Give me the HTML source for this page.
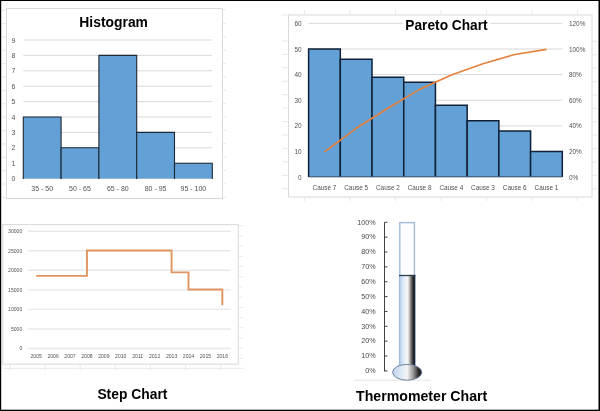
<!DOCTYPE html>
<html><head><meta charset="utf-8"><style>
html,body{margin:0;padding:0;background:#fff;}
body{width:600px;height:411px;overflow:hidden;}
svg{display:block;font-family:"Liberation Sans", sans-serif;will-change:transform;}
</style></head><body>
<svg width="600" height="411" viewBox="0 0 600 411">
<rect x="0" y="0" width="600" height="411" fill="#fff"/>
<line x1="2.00" y1="10.20" x2="6.00" y2="10.20" stroke="#e9e9e9" stroke-width="1"/>
<line x1="2.00" y1="23.57" x2="6.00" y2="23.57" stroke="#e9e9e9" stroke-width="1"/>
<line x1="2.00" y1="36.94" x2="6.00" y2="36.94" stroke="#e9e9e9" stroke-width="1"/>
<line x1="2.00" y1="50.31" x2="6.00" y2="50.31" stroke="#e9e9e9" stroke-width="1"/>
<line x1="2.00" y1="63.68" x2="6.00" y2="63.68" stroke="#e9e9e9" stroke-width="1"/>
<line x1="2.00" y1="77.05" x2="6.00" y2="77.05" stroke="#e9e9e9" stroke-width="1"/>
<line x1="2.00" y1="90.42" x2="6.00" y2="90.42" stroke="#e9e9e9" stroke-width="1"/>
<line x1="2.00" y1="103.79" x2="6.00" y2="103.79" stroke="#e9e9e9" stroke-width="1"/>
<line x1="2.00" y1="117.16" x2="6.00" y2="117.16" stroke="#e9e9e9" stroke-width="1"/>
<line x1="2.00" y1="130.53" x2="6.00" y2="130.53" stroke="#e9e9e9" stroke-width="1"/>
<line x1="2.00" y1="143.90" x2="6.00" y2="143.90" stroke="#e9e9e9" stroke-width="1"/>
<line x1="2.00" y1="157.27" x2="6.00" y2="157.27" stroke="#e9e9e9" stroke-width="1"/>
<line x1="2.00" y1="170.64" x2="6.00" y2="170.64" stroke="#e9e9e9" stroke-width="1"/>
<line x1="2.00" y1="184.01" x2="6.00" y2="184.01" stroke="#e9e9e9" stroke-width="1"/>
<line x1="2.00" y1="197.38" x2="6.00" y2="197.38" stroke="#e9e9e9" stroke-width="1"/>
<line x1="223.00" y1="9.90" x2="226.00" y2="9.90" stroke="#e9e9e9" stroke-width="1"/>
<line x1="223.00" y1="23.28" x2="226.00" y2="23.28" stroke="#e9e9e9" stroke-width="1"/>
<line x1="223.00" y1="36.66" x2="226.00" y2="36.66" stroke="#e9e9e9" stroke-width="1"/>
<line x1="223.00" y1="50.04" x2="226.00" y2="50.04" stroke="#e9e9e9" stroke-width="1"/>
<line x1="223.00" y1="63.42" x2="226.00" y2="63.42" stroke="#e9e9e9" stroke-width="1"/>
<line x1="223.00" y1="76.80" x2="226.00" y2="76.80" stroke="#e9e9e9" stroke-width="1"/>
<line x1="223.00" y1="90.18" x2="226.00" y2="90.18" stroke="#e9e9e9" stroke-width="1"/>
<line x1="223.00" y1="103.56" x2="226.00" y2="103.56" stroke="#e9e9e9" stroke-width="1"/>
<line x1="223.00" y1="116.94" x2="226.00" y2="116.94" stroke="#e9e9e9" stroke-width="1"/>
<line x1="223.00" y1="130.32" x2="226.00" y2="130.32" stroke="#e9e9e9" stroke-width="1"/>
<line x1="223.00" y1="143.70" x2="226.00" y2="143.70" stroke="#e9e9e9" stroke-width="1"/>
<line x1="223.00" y1="157.08" x2="226.00" y2="157.08" stroke="#e9e9e9" stroke-width="1"/>
<line x1="223.00" y1="170.46" x2="226.00" y2="170.46" stroke="#e9e9e9" stroke-width="1"/>
<line x1="223.00" y1="183.84" x2="226.00" y2="183.84" stroke="#e9e9e9" stroke-width="1"/>
<line x1="223.00" y1="197.22" x2="226.00" y2="197.22" stroke="#e9e9e9" stroke-width="1"/>
<rect x="6.50" y="8.50" width="216.00" height="190.00" fill="none" stroke="#d9d9d9" stroke-width="1" />
<line x1="23.30" y1="178.60" x2="212.30" y2="178.60" stroke="#d9d9d9" stroke-width="1"/>
<text x="15.40" y="181.10" font-size="7.6" text-anchor="end" fill="#505050" textLength="3.89" lengthAdjust="spacingAndGlyphs">0</text>
<line x1="23.30" y1="163.20" x2="212.30" y2="163.20" stroke="#d9d9d9" stroke-width="1"/>
<text x="15.40" y="165.70" font-size="7.6" text-anchor="end" fill="#505050" textLength="3.89" lengthAdjust="spacingAndGlyphs">1</text>
<line x1="23.30" y1="147.80" x2="212.30" y2="147.80" stroke="#d9d9d9" stroke-width="1"/>
<text x="15.40" y="150.30" font-size="7.6" text-anchor="end" fill="#505050" textLength="3.89" lengthAdjust="spacingAndGlyphs">2</text>
<line x1="23.30" y1="132.40" x2="212.30" y2="132.40" stroke="#d9d9d9" stroke-width="1"/>
<text x="15.40" y="134.90" font-size="7.6" text-anchor="end" fill="#505050" textLength="3.89" lengthAdjust="spacingAndGlyphs">3</text>
<line x1="23.30" y1="117.00" x2="212.30" y2="117.00" stroke="#d9d9d9" stroke-width="1"/>
<text x="15.40" y="119.50" font-size="7.6" text-anchor="end" fill="#505050" textLength="3.89" lengthAdjust="spacingAndGlyphs">4</text>
<line x1="23.30" y1="101.60" x2="212.30" y2="101.60" stroke="#d9d9d9" stroke-width="1"/>
<text x="15.40" y="104.10" font-size="7.6" text-anchor="end" fill="#505050" textLength="3.89" lengthAdjust="spacingAndGlyphs">5</text>
<line x1="23.30" y1="86.20" x2="212.30" y2="86.20" stroke="#d9d9d9" stroke-width="1"/>
<text x="15.40" y="88.70" font-size="7.6" text-anchor="end" fill="#505050" textLength="3.89" lengthAdjust="spacingAndGlyphs">6</text>
<line x1="23.30" y1="70.80" x2="212.30" y2="70.80" stroke="#d9d9d9" stroke-width="1"/>
<text x="15.40" y="73.30" font-size="7.6" text-anchor="end" fill="#505050" textLength="3.89" lengthAdjust="spacingAndGlyphs">7</text>
<line x1="23.30" y1="55.40" x2="212.30" y2="55.40" stroke="#d9d9d9" stroke-width="1"/>
<text x="15.40" y="57.90" font-size="7.6" text-anchor="end" fill="#505050" textLength="3.89" lengthAdjust="spacingAndGlyphs">8</text>
<line x1="23.30" y1="40.00" x2="212.30" y2="40.00" stroke="#d9d9d9" stroke-width="1"/>
<text x="15.40" y="42.50" font-size="7.6" text-anchor="end" fill="#505050" textLength="3.89" lengthAdjust="spacingAndGlyphs">9</text>
<rect x="23.30" y="117.00" width="37.80" height="61.60" fill="#62a0d5" stroke="none" stroke-width="1" />
<path d="M23.30,178.90V117.00H61.10V178.90" fill="none" stroke="#1b2836" stroke-width="1.1"/>
<text x="42.20" y="191.30" font-size="7.8" text-anchor="middle" fill="#505050" textLength="21.79" lengthAdjust="spacingAndGlyphs">35 - 50</text>
<rect x="61.10" y="147.80" width="37.80" height="30.80" fill="#62a0d5" stroke="none" stroke-width="1" />
<path d="M61.10,178.90V147.80H98.90V178.90" fill="none" stroke="#1b2836" stroke-width="1.1"/>
<text x="80.00" y="191.30" font-size="7.8" text-anchor="middle" fill="#505050" textLength="21.79" lengthAdjust="spacingAndGlyphs">50 - 65</text>
<rect x="98.90" y="55.40" width="37.80" height="123.20" fill="#62a0d5" stroke="none" stroke-width="1" />
<path d="M98.90,178.90V55.40H136.70V178.90" fill="none" stroke="#1b2836" stroke-width="1.1"/>
<text x="117.80" y="191.30" font-size="7.8" text-anchor="middle" fill="#505050" textLength="21.79" lengthAdjust="spacingAndGlyphs">65 - 80</text>
<rect x="136.70" y="132.40" width="37.80" height="46.20" fill="#62a0d5" stroke="none" stroke-width="1" />
<path d="M136.70,178.90V132.40H174.50V178.90" fill="none" stroke="#1b2836" stroke-width="1.1"/>
<text x="155.60" y="191.30" font-size="7.8" text-anchor="middle" fill="#505050" textLength="21.79" lengthAdjust="spacingAndGlyphs">80 - 95</text>
<rect x="174.50" y="163.20" width="37.80" height="15.40" fill="#62a0d5" stroke="none" stroke-width="1" />
<path d="M174.50,178.90V163.20H212.30V178.90" fill="none" stroke="#1b2836" stroke-width="1.1"/>
<text x="193.40" y="191.30" font-size="7.8" text-anchor="middle" fill="#505050" textLength="25.69" lengthAdjust="spacingAndGlyphs">95 - 100</text>
<text x="79.35" y="26.75" font-size="14.5" text-anchor="start" fill="#000" font-weight="bold" textLength="68.6" lengthAdjust="spacingAndGlyphs">Histogram</text>
<line x1="304.60" y1="10.00" x2="304.60" y2="15.00" stroke="#e9e9e9" stroke-width="1"/>
<line x1="304.60" y1="197.00" x2="304.60" y2="201.00" stroke="#e9e9e9" stroke-width="1"/>
<line x1="350.07" y1="10.00" x2="350.07" y2="15.00" stroke="#e9e9e9" stroke-width="1"/>
<line x1="350.07" y1="197.00" x2="350.07" y2="201.00" stroke="#e9e9e9" stroke-width="1"/>
<line x1="395.54" y1="10.00" x2="395.54" y2="15.00" stroke="#e9e9e9" stroke-width="1"/>
<line x1="395.54" y1="197.00" x2="395.54" y2="201.00" stroke="#e9e9e9" stroke-width="1"/>
<line x1="441.01" y1="10.00" x2="441.01" y2="15.00" stroke="#e9e9e9" stroke-width="1"/>
<line x1="441.01" y1="197.00" x2="441.01" y2="201.00" stroke="#e9e9e9" stroke-width="1"/>
<line x1="486.48" y1="10.00" x2="486.48" y2="15.00" stroke="#e9e9e9" stroke-width="1"/>
<line x1="486.48" y1="197.00" x2="486.48" y2="201.00" stroke="#e9e9e9" stroke-width="1"/>
<line x1="531.95" y1="10.00" x2="531.95" y2="15.00" stroke="#e9e9e9" stroke-width="1"/>
<line x1="531.95" y1="197.00" x2="531.95" y2="201.00" stroke="#e9e9e9" stroke-width="1"/>
<line x1="577.42" y1="10.00" x2="577.42" y2="15.00" stroke="#e9e9e9" stroke-width="1"/>
<line x1="577.42" y1="197.00" x2="577.42" y2="201.00" stroke="#e9e9e9" stroke-width="1"/>
<line x1="282.00" y1="40.90" x2="288.00" y2="40.90" stroke="#e9e9e9" stroke-width="1"/>
<line x1="282.00" y1="54.35" x2="288.00" y2="54.35" stroke="#e9e9e9" stroke-width="1"/>
<line x1="282.00" y1="67.80" x2="288.00" y2="67.80" stroke="#e9e9e9" stroke-width="1"/>
<line x1="282.00" y1="81.25" x2="288.00" y2="81.25" stroke="#e9e9e9" stroke-width="1"/>
<line x1="282.00" y1="94.70" x2="288.00" y2="94.70" stroke="#e9e9e9" stroke-width="1"/>
<line x1="282.00" y1="108.15" x2="288.00" y2="108.15" stroke="#e9e9e9" stroke-width="1"/>
<line x1="282.00" y1="121.60" x2="288.00" y2="121.60" stroke="#e9e9e9" stroke-width="1"/>
<line x1="282.00" y1="135.05" x2="288.00" y2="135.05" stroke="#e9e9e9" stroke-width="1"/>
<line x1="282.00" y1="148.50" x2="288.00" y2="148.50" stroke="#e9e9e9" stroke-width="1"/>
<line x1="282.00" y1="161.95" x2="288.00" y2="161.95" stroke="#e9e9e9" stroke-width="1"/>
<line x1="282.00" y1="175.40" x2="288.00" y2="175.40" stroke="#e9e9e9" stroke-width="1"/>
<line x1="282.00" y1="188.85" x2="288.00" y2="188.85" stroke="#e9e9e9" stroke-width="1"/>
<line x1="592.00" y1="41.40" x2="597.00" y2="41.40" stroke="#e9e9e9" stroke-width="1"/>
<line x1="592.00" y1="54.80" x2="597.00" y2="54.80" stroke="#e9e9e9" stroke-width="1"/>
<line x1="592.00" y1="68.20" x2="597.00" y2="68.20" stroke="#e9e9e9" stroke-width="1"/>
<line x1="592.00" y1="81.60" x2="597.00" y2="81.60" stroke="#e9e9e9" stroke-width="1"/>
<line x1="592.00" y1="95.00" x2="597.00" y2="95.00" stroke="#e9e9e9" stroke-width="1"/>
<line x1="592.00" y1="108.40" x2="597.00" y2="108.40" stroke="#e9e9e9" stroke-width="1"/>
<line x1="592.00" y1="121.80" x2="597.00" y2="121.80" stroke="#e9e9e9" stroke-width="1"/>
<line x1="592.00" y1="135.20" x2="597.00" y2="135.20" stroke="#e9e9e9" stroke-width="1"/>
<line x1="592.00" y1="148.60" x2="597.00" y2="148.60" stroke="#e9e9e9" stroke-width="1"/>
<line x1="592.00" y1="162.00" x2="597.00" y2="162.00" stroke="#e9e9e9" stroke-width="1"/>
<line x1="592.00" y1="175.40" x2="597.00" y2="175.40" stroke="#e9e9e9" stroke-width="1"/>
<line x1="592.00" y1="188.80" x2="597.00" y2="188.80" stroke="#e9e9e9" stroke-width="1"/>
<line x1="281.00" y1="15.00" x2="288.00" y2="15.00" stroke="#e9e9e9" stroke-width="1"/>
<rect x="288.50" y="15.00" width="303.50" height="182.00" fill="none" stroke="#d9d9d9" stroke-width="1" />
<line x1="308.60" y1="177.10" x2="562.30" y2="177.10" stroke="#d9d9d9" stroke-width="1"/>
<text x="301.60" y="179.60" font-size="7.0" text-anchor="end" fill="#505050" textLength="3.56" lengthAdjust="spacingAndGlyphs">0</text>
<text x="569.00" y="179.60" font-size="7.0" text-anchor="start" fill="#505050" textLength="9.25" lengthAdjust="spacingAndGlyphs">0%</text>
<line x1="308.60" y1="151.48" x2="562.30" y2="151.48" stroke="#d9d9d9" stroke-width="1"/>
<text x="301.60" y="153.98" font-size="7.0" text-anchor="end" fill="#505050" textLength="7.12" lengthAdjust="spacingAndGlyphs">10</text>
<text x="569.00" y="153.98" font-size="7.0" text-anchor="start" fill="#505050" textLength="12.81" lengthAdjust="spacingAndGlyphs">20%</text>
<line x1="308.60" y1="125.86" x2="562.30" y2="125.86" stroke="#d9d9d9" stroke-width="1"/>
<text x="301.60" y="128.36" font-size="7.0" text-anchor="end" fill="#505050" textLength="7.12" lengthAdjust="spacingAndGlyphs">20</text>
<text x="569.00" y="128.36" font-size="7.0" text-anchor="start" fill="#505050" textLength="12.81" lengthAdjust="spacingAndGlyphs">40%</text>
<line x1="308.60" y1="100.24" x2="562.30" y2="100.24" stroke="#d9d9d9" stroke-width="1"/>
<text x="301.60" y="102.74" font-size="7.0" text-anchor="end" fill="#505050" textLength="7.12" lengthAdjust="spacingAndGlyphs">30</text>
<text x="569.00" y="102.74" font-size="7.0" text-anchor="start" fill="#505050" textLength="12.81" lengthAdjust="spacingAndGlyphs">60%</text>
<line x1="308.60" y1="74.62" x2="562.30" y2="74.62" stroke="#d9d9d9" stroke-width="1"/>
<text x="301.60" y="77.12" font-size="7.0" text-anchor="end" fill="#505050" textLength="7.12" lengthAdjust="spacingAndGlyphs">40</text>
<text x="569.00" y="77.12" font-size="7.0" text-anchor="start" fill="#505050" textLength="12.81" lengthAdjust="spacingAndGlyphs">80%</text>
<line x1="308.60" y1="49.00" x2="562.30" y2="49.00" stroke="#d9d9d9" stroke-width="1"/>
<text x="301.60" y="51.50" font-size="7.0" text-anchor="end" fill="#505050" textLength="7.12" lengthAdjust="spacingAndGlyphs">50</text>
<text x="569.00" y="51.50" font-size="7.0" text-anchor="start" fill="#505050" textLength="16.37" lengthAdjust="spacingAndGlyphs">100%</text>
<line x1="308.60" y1="23.38" x2="562.30" y2="23.38" stroke="#d9d9d9" stroke-width="1"/>
<text x="301.60" y="25.88" font-size="7.0" text-anchor="end" fill="#505050" textLength="7.12" lengthAdjust="spacingAndGlyphs">60</text>
<text x="569.00" y="25.88" font-size="7.0" text-anchor="start" fill="#505050" textLength="16.37" lengthAdjust="spacingAndGlyphs">120%</text>
<rect x="308.60" y="49.00" width="31.71" height="128.10" fill="#62a0d5" stroke="none" stroke-width="1" />
<path d="M308.60,177.10V49.00H340.31V177.10" fill="none" stroke="#0f2138" stroke-width="1.5"/>
<text x="324.46" y="189.70" font-size="7.3" text-anchor="middle" fill="#505050" textLength="23.84" lengthAdjust="spacingAndGlyphs">Cause 7</text>
<rect x="340.31" y="59.25" width="31.71" height="117.85" fill="#62a0d5" stroke="none" stroke-width="1" />
<path d="M340.31,177.10V59.25H372.02V177.10" fill="none" stroke="#0f2138" stroke-width="1.5"/>
<text x="356.17" y="189.70" font-size="7.3" text-anchor="middle" fill="#505050" textLength="23.84" lengthAdjust="spacingAndGlyphs">Cause 5</text>
<rect x="372.02" y="77.18" width="31.71" height="99.92" fill="#62a0d5" stroke="none" stroke-width="1" />
<path d="M372.02,177.10V77.18H403.74V177.10" fill="none" stroke="#0f2138" stroke-width="1.5"/>
<text x="387.88" y="189.70" font-size="7.3" text-anchor="middle" fill="#505050" textLength="23.84" lengthAdjust="spacingAndGlyphs">Cause 2</text>
<rect x="403.74" y="82.31" width="31.71" height="94.79" fill="#62a0d5" stroke="none" stroke-width="1" />
<path d="M403.74,177.10V82.31H435.45V177.10" fill="none" stroke="#0f2138" stroke-width="1.5"/>
<text x="419.59" y="189.70" font-size="7.3" text-anchor="middle" fill="#505050" textLength="23.84" lengthAdjust="spacingAndGlyphs">Cause 8</text>
<rect x="435.45" y="105.36" width="31.71" height="71.74" fill="#62a0d5" stroke="none" stroke-width="1" />
<path d="M435.45,177.10V105.36H467.16V177.10" fill="none" stroke="#0f2138" stroke-width="1.5"/>
<text x="451.31" y="189.70" font-size="7.3" text-anchor="middle" fill="#505050" textLength="23.84" lengthAdjust="spacingAndGlyphs">Cause 4</text>
<rect x="467.16" y="120.74" width="31.71" height="56.36" fill="#62a0d5" stroke="none" stroke-width="1" />
<path d="M467.16,177.10V120.74H498.87V177.10" fill="none" stroke="#0f2138" stroke-width="1.5"/>
<text x="483.02" y="189.70" font-size="7.3" text-anchor="middle" fill="#505050" textLength="23.84" lengthAdjust="spacingAndGlyphs">Cause 3</text>
<rect x="498.88" y="130.98" width="31.71" height="46.12" fill="#62a0d5" stroke="none" stroke-width="1" />
<path d="M498.88,177.10V130.98H530.59V177.10" fill="none" stroke="#0f2138" stroke-width="1.5"/>
<text x="514.73" y="189.70" font-size="7.3" text-anchor="middle" fill="#505050" textLength="23.84" lengthAdjust="spacingAndGlyphs">Cause 6</text>
<rect x="530.59" y="151.48" width="31.71" height="25.62" fill="#62a0d5" stroke="none" stroke-width="1" />
<path d="M530.59,177.10V151.48H562.30V177.10" fill="none" stroke="#0f2138" stroke-width="1.5"/>
<text x="546.44" y="189.70" font-size="7.3" text-anchor="middle" fill="#505050" textLength="23.84" lengthAdjust="spacingAndGlyphs">Cause 1</text>
<line x1="308.60" y1="176.70" x2="562.30" y2="176.70" stroke="#3f5d7c" stroke-width="1"/>
<polyline fill="none" stroke="#e6823e" stroke-width="1.7" stroke-linejoin="round" points="324.46,151.88 356.17,128.31 387.88,108.33 419.59,89.37 451.31,75.02 483.02,63.75 514.73,54.52 546.44,49.40"/>
<rect x="402.50" y="17.00" width="88.00" height="15.00" fill="#fff" stroke="none" stroke-width="1" />
<text x="405.35" y="30.00" font-size="14.5" text-anchor="start" fill="#000" font-weight="bold" textLength="82.3" lengthAdjust="spacingAndGlyphs">Pareto Chart</text>
<line x1="238.50" y1="225.80" x2="243.00" y2="225.80" stroke="#e9e9e9" stroke-width="1"/>
<line x1="238.50" y1="236.00" x2="243.00" y2="236.00" stroke="#e9e9e9" stroke-width="1"/>
<line x1="238.50" y1="246.20" x2="243.00" y2="246.20" stroke="#e9e9e9" stroke-width="1"/>
<line x1="238.50" y1="256.40" x2="243.00" y2="256.40" stroke="#e9e9e9" stroke-width="1"/>
<line x1="238.50" y1="266.60" x2="243.00" y2="266.60" stroke="#e9e9e9" stroke-width="1"/>
<line x1="238.50" y1="276.80" x2="243.00" y2="276.80" stroke="#e9e9e9" stroke-width="1"/>
<line x1="238.50" y1="287.00" x2="243.00" y2="287.00" stroke="#e9e9e9" stroke-width="1"/>
<line x1="238.50" y1="297.20" x2="243.00" y2="297.20" stroke="#e9e9e9" stroke-width="1"/>
<line x1="238.50" y1="307.40" x2="243.00" y2="307.40" stroke="#e9e9e9" stroke-width="1"/>
<line x1="238.50" y1="317.60" x2="243.00" y2="317.60" stroke="#e9e9e9" stroke-width="1"/>
<line x1="238.50" y1="327.80" x2="243.00" y2="327.80" stroke="#e9e9e9" stroke-width="1"/>
<line x1="238.50" y1="338.00" x2="243.00" y2="338.00" stroke="#e9e9e9" stroke-width="1"/>
<line x1="238.50" y1="348.20" x2="243.00" y2="348.20" stroke="#e9e9e9" stroke-width="1"/>
<line x1="238.50" y1="358.40" x2="243.00" y2="358.40" stroke="#e9e9e9" stroke-width="1"/>
<line x1="3.00" y1="368.30" x2="244.00" y2="368.30" stroke="#e9e9e9" stroke-width="1"/>
<line x1="10.00" y1="364.00" x2="10.00" y2="370.50" stroke="#e9e9e9" stroke-width="1"/>
<line x1="45.10" y1="364.00" x2="45.10" y2="370.50" stroke="#e9e9e9" stroke-width="1"/>
<line x1="80.20" y1="364.00" x2="80.20" y2="370.50" stroke="#e9e9e9" stroke-width="1"/>
<line x1="115.30" y1="364.00" x2="115.30" y2="370.50" stroke="#e9e9e9" stroke-width="1"/>
<line x1="150.40" y1="364.00" x2="150.40" y2="370.50" stroke="#e9e9e9" stroke-width="1"/>
<line x1="185.50" y1="364.00" x2="185.50" y2="370.50" stroke="#e9e9e9" stroke-width="1"/>
<line x1="220.60" y1="364.00" x2="220.60" y2="370.50" stroke="#e9e9e9" stroke-width="1"/>
<rect x="2.80" y="224.60" width="235.50" height="139.60" fill="none" stroke="#d9d9d9" stroke-width="1" />
<line x1="27.70" y1="348.50" x2="230.80" y2="348.50" stroke="#e8e8e8" stroke-width="1.4"/>
<text x="22.30" y="350.40" font-size="5.5" text-anchor="end" fill="#505050" textLength="2.84" lengthAdjust="spacingAndGlyphs">0</text>
<line x1="27.70" y1="328.95" x2="230.80" y2="328.95" stroke="#e8e8e8" stroke-width="1.4"/>
<text x="22.30" y="330.85" font-size="5.5" text-anchor="end" fill="#505050" textLength="11.35" lengthAdjust="spacingAndGlyphs">5000</text>
<line x1="27.70" y1="309.40" x2="230.80" y2="309.40" stroke="#e8e8e8" stroke-width="1.4"/>
<text x="22.30" y="311.30" font-size="5.5" text-anchor="end" fill="#505050" textLength="14.18" lengthAdjust="spacingAndGlyphs">10000</text>
<line x1="27.70" y1="289.85" x2="230.80" y2="289.85" stroke="#e8e8e8" stroke-width="1.4"/>
<text x="22.30" y="291.75" font-size="5.5" text-anchor="end" fill="#505050" textLength="14.18" lengthAdjust="spacingAndGlyphs">15000</text>
<line x1="27.70" y1="270.30" x2="230.80" y2="270.30" stroke="#e8e8e8" stroke-width="1.4"/>
<text x="22.30" y="272.20" font-size="5.5" text-anchor="end" fill="#505050" textLength="14.18" lengthAdjust="spacingAndGlyphs">20000</text>
<line x1="27.70" y1="250.75" x2="230.80" y2="250.75" stroke="#e8e8e8" stroke-width="1.4"/>
<text x="22.30" y="252.65" font-size="5.5" text-anchor="end" fill="#505050" textLength="14.18" lengthAdjust="spacingAndGlyphs">25000</text>
<line x1="27.70" y1="231.20" x2="230.80" y2="231.20" stroke="#e8e8e8" stroke-width="1.4"/>
<text x="22.30" y="233.10" font-size="5.5" text-anchor="end" fill="#505050" textLength="14.18" lengthAdjust="spacingAndGlyphs">30000</text>
<text x="36.16" y="358.10" font-size="5.5" text-anchor="middle" fill="#505050" textLength="11.35" lengthAdjust="spacingAndGlyphs">2005</text>
<text x="53.09" y="358.10" font-size="5.5" text-anchor="middle" fill="#505050" textLength="11.35" lengthAdjust="spacingAndGlyphs">2006</text>
<text x="70.01" y="358.10" font-size="5.5" text-anchor="middle" fill="#505050" textLength="11.35" lengthAdjust="spacingAndGlyphs">2007</text>
<text x="86.94" y="358.10" font-size="5.5" text-anchor="middle" fill="#505050" textLength="11.35" lengthAdjust="spacingAndGlyphs">2008</text>
<text x="103.86" y="358.10" font-size="5.5" text-anchor="middle" fill="#505050" textLength="11.35" lengthAdjust="spacingAndGlyphs">2009</text>
<text x="120.79" y="358.10" font-size="5.5" text-anchor="middle" fill="#505050" textLength="11.35" lengthAdjust="spacingAndGlyphs">2010</text>
<text x="137.71" y="358.10" font-size="5.5" text-anchor="middle" fill="#505050" textLength="10.97" lengthAdjust="spacingAndGlyphs">2011</text>
<text x="154.64" y="358.10" font-size="5.5" text-anchor="middle" fill="#505050" textLength="11.35" lengthAdjust="spacingAndGlyphs">2012</text>
<text x="171.56" y="358.10" font-size="5.5" text-anchor="middle" fill="#505050" textLength="11.35" lengthAdjust="spacingAndGlyphs">2013</text>
<text x="188.49" y="358.10" font-size="5.5" text-anchor="middle" fill="#505050" textLength="11.35" lengthAdjust="spacingAndGlyphs">2014</text>
<text x="205.41" y="358.10" font-size="5.5" text-anchor="middle" fill="#505050" textLength="11.35" lengthAdjust="spacingAndGlyphs">2015</text>
<text x="222.34" y="358.10" font-size="5.5" text-anchor="middle" fill="#505050" textLength="11.35" lengthAdjust="spacingAndGlyphs">2016</text>
<polyline fill="none" stroke="#e0945f" stroke-width="1.9" stroke-linejoin="miter" points="36.16,275.86 86.94,275.86 86.94,250.45 171.56,250.45 171.56,272.35 188.49,272.35 188.49,289.55 222.34,289.55 222.34,305.19"/>
<text x="97.40" y="399.00" font-size="14.5" text-anchor="start" fill="#000" font-weight="bold" textLength="70" lengthAdjust="spacingAndGlyphs">Step Chart</text>
<line x1="354.50" y1="380.20" x2="431.00" y2="380.20" stroke="#e4e4e4" stroke-width="1"/>
<line x1="384.50" y1="222.30" x2="384.50" y2="371.40" stroke="#404040" stroke-width="1"/>
<line x1="384.50" y1="370.90" x2="387.50" y2="370.90" stroke="#404040" stroke-width="1"/>
<text x="375.70" y="373.10" font-size="7.2" text-anchor="end" fill="#4a4a4a" font-weight="normal" >0%</text>
<line x1="384.50" y1="356.04" x2="387.50" y2="356.04" stroke="#404040" stroke-width="1"/>
<text x="375.70" y="358.24" font-size="7.2" text-anchor="end" fill="#4a4a4a" font-weight="normal" >10%</text>
<line x1="384.50" y1="341.18" x2="387.50" y2="341.18" stroke="#404040" stroke-width="1"/>
<text x="375.70" y="343.38" font-size="7.2" text-anchor="end" fill="#4a4a4a" font-weight="normal" >20%</text>
<line x1="384.50" y1="326.32" x2="387.50" y2="326.32" stroke="#404040" stroke-width="1"/>
<text x="375.70" y="328.52" font-size="7.2" text-anchor="end" fill="#4a4a4a" font-weight="normal" >30%</text>
<line x1="384.50" y1="311.46" x2="387.50" y2="311.46" stroke="#404040" stroke-width="1"/>
<text x="375.70" y="313.66" font-size="7.2" text-anchor="end" fill="#4a4a4a" font-weight="normal" >40%</text>
<line x1="384.50" y1="296.60" x2="387.50" y2="296.60" stroke="#404040" stroke-width="1"/>
<text x="375.70" y="298.80" font-size="7.2" text-anchor="end" fill="#4a4a4a" font-weight="normal" >50%</text>
<line x1="384.50" y1="281.74" x2="387.50" y2="281.74" stroke="#404040" stroke-width="1"/>
<text x="375.70" y="283.94" font-size="7.2" text-anchor="end" fill="#4a4a4a" font-weight="normal" >60%</text>
<line x1="384.50" y1="266.88" x2="387.50" y2="266.88" stroke="#404040" stroke-width="1"/>
<text x="375.70" y="269.08" font-size="7.2" text-anchor="end" fill="#4a4a4a" font-weight="normal" >70%</text>
<line x1="384.50" y1="252.02" x2="387.50" y2="252.02" stroke="#404040" stroke-width="1"/>
<text x="375.70" y="254.22" font-size="7.2" text-anchor="end" fill="#4a4a4a" font-weight="normal" >80%</text>
<line x1="384.50" y1="237.16" x2="387.50" y2="237.16" stroke="#404040" stroke-width="1"/>
<text x="375.70" y="239.36" font-size="7.2" text-anchor="end" fill="#4a4a4a" font-weight="normal" >90%</text>
<line x1="384.50" y1="222.30" x2="387.50" y2="222.30" stroke="#404040" stroke-width="1"/>
<text x="375.70" y="224.50" font-size="7.2" text-anchor="end" fill="#4a4a4a" font-weight="normal" >100%</text>
<defs>
<linearGradient id="tg" gradientUnits="userSpaceOnUse" x1="398.9" x2="415.6" y1="0" y2="0">
<stop offset="0" stop-color="#8fa9c8"/>
<stop offset="0.07" stop-color="#b3cbe8"/>
<stop offset="0.14" stop-color="#c4d8f0"/>
<stop offset="0.22" stop-color="#d9e6f6"/>
<stop offset="0.42" stop-color="#eef3fa"/>
<stop offset="0.52" stop-color="#f4f4f4"/>
<stop offset="0.6" stop-color="#d2d2d2"/>
<stop offset="0.72" stop-color="#7c7c7c"/>
<stop offset="0.82" stop-color="#3c3c3c"/>
<stop offset="0.9" stop-color="#1a1f27"/>
<stop offset="0.96" stop-color="#1a2636"/>
<stop offset="1" stop-color="#7f96b3"/>
</linearGradient>
<linearGradient id="bg" x1="0" x2="1" y1="0" y2="0">
<stop offset="0" stop-color="#c0d4ec"/>
<stop offset="0.25" stop-color="#d9e6f6"/>
<stop offset="0.5" stop-color="#f4f4f4"/>
<stop offset="0.7" stop-color="#9a9a9a"/>
<stop offset="0.88" stop-color="#2e2e2e"/>
<stop offset="1" stop-color="#111"/>
</linearGradient>
</defs>
<rect x="399.80" y="222.60" width="14.60" height="150.00" fill="#fdfeff" stroke="#a3bbd8" stroke-width="1.4" />
<rect x="398.90" y="274.90" width="16.70" height="97.10" fill="url(#tg)" stroke="none" stroke-width="1" />
<line x1="399.00" y1="275.50" x2="415.40" y2="275.50" stroke="#2f3c4c" stroke-width="1.3"/>
<ellipse cx="407.2" cy="372.3" rx="14.6" ry="7.9" fill="url(#bg)" stroke="#6f849f" stroke-width="1"/>
<text x="356.00" y="400.70" font-size="14.5" text-anchor="start" fill="#000" font-weight="bold" textLength="131.3" lengthAdjust="spacingAndGlyphs">Thermometer Chart</text>
<rect x="0" y="0" width="600" height="1" fill="#000"/>
<rect x="0" y="0" width="1.2" height="411" fill="#000"/>
<rect x="598.5" y="0" width="1.5" height="411" fill="#000"/>
<rect x="0" y="409.7" width="600" height="1.3" fill="#000"/>
</svg>
</body></html>
